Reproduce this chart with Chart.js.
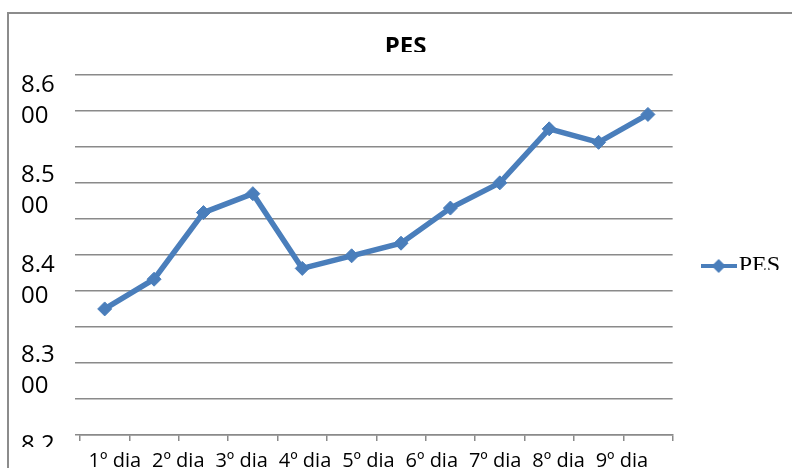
<!DOCTYPE html>
<html>
<head>
<meta charset="utf-8">
<script src="https://cdn.jsdelivr.net/npm/chart.js@4.4.0/dist/chart.umd.min.js"></script>
<style>
  html, body { margin: 0; padding: 0; background: #fff; }
  #wrap { position: relative; width: 792px; height: 468px; overflow: hidden; }
  #frame { position: absolute; left: 7px; top: 12px; right: -10px; bottom: -10px; border-left: 2px solid #8c8c8c; border-top: 2px solid #8c8c8c; }
  canvas { position: absolute; left: 0; top: 0; }
</style>
</head>
<body>
<div id="wrap"><div id="frame"></div><canvas id="chartPes" width="792" height="468"></canvas></div>
<script>
let days = ['1º dia', '2º dia', '3º dia', '4º dia', '5º dia', '6º dia', '7º dia', '8º dia', '9º dia', '10º dia', '11º dia', '12º dia'];
let pes = [8.340, 8.373, 8.447, 8.468, 8.385, 8.399, 8.413, 8.452, 8.480, 8.540, 8.525, 8.556];
// only the first nine day labels fit under the axis
let visibleDays = days.slice(0, 9);
let gridValues = [8.2, 8.24, 8.28, 8.32, 8.36, 8.4, 8.44, 8.48, 8.52, 8.56, 8.6];
let yLabelValues = [8.2, 8.3, 8.4, 8.5, 8.6];

let blue = '#4a7ebb';
let gray = '#8a8a8a';

// legend icon: line + diamond
let icon = document.createElement('canvas');
icon.width = 36;
icon.height = 16;
let ic = icon.getContext('2d');
ic.strokeStyle = blue;
ic.lineWidth = 4;
ic.beginPath(); ic.moveTo(0, 8); ic.lineTo(36, 8); ic.stroke();
ic.fillStyle = blue;
ic.beginPath(); ic.moveTo(18, 1); ic.lineTo(25, 8); ic.lineTo(18, 15); ic.lineTo(11, 8); ic.closePath(); ic.fill();

// the reference cuts off the bottom of some texts
let clipPlugin = {
    id: 'clipTexts',
    beforeDraw(chart) {
        let c = chart.ctx;
        c.save();
        c.beginPath();
        c.rect(0, 0, chart.width, chart.height);
        c.rect(350, 52, 100, 20);
        c.rect(738, 270, 54, 30);
        c.rect(0, 447, 74, 21);
        c.clip('evenodd');
    },
    afterDraw(chart) {
        chart.ctx.restore();
    }
};

let ctxPes = document.querySelector('#chartPes').getContext('2d');
let chartPes = new Chart(ctxPes, {
    type: 'line',
    data: {
        labels: days,
        datasets: [
            {
                label: 'PES',
                data: pes,
                xAxisID: 'x',
                yAxisID: 'y',
                borderColor: blue,
                backgroundColor: blue,
                borderWidth: 5.5,
                pointStyle: 'rectRot',
                pointRadius: 7,
                pointBackgroundColor: blue,
                pointBorderColor: blue,
                pointBorderWidth: 1,
                tension: 0
            }
        ]
    },
    plugins: [clipPlugin],
    options: {
        responsive: false,
        animation: false,
        layout: { padding: { left: 21, right: 2, top: 0, bottom: 0 } },
        plugins: {
            title: {
                display: true,
                text: 'PES',
                color: '#000',
                font: { family: 'Open Sans', size: 24, weight: 'bold' },
                padding: { top: 33, bottom: 13 }
            },
            legend: {
                position: 'right',
                title: { display: true, text: ' ', padding: { top: 54, bottom: 0 }, font: { size: 10, lineHeight: 1 } },
                labels: {
                    usePointStyle: true,
                    pointStyle: icon,
                    pointStyleWidth: 16,
                    padding: 38,
                    color: '#000',
                    font: { family: 'Liberation Serif', size: 24 }
                }
            },
            tooltip: { enabled: false }
        },
        scales: {
            x: {
                type: 'category',
                offset: true,
                grid: { display: true, drawOnChartArea: false, drawTicks: true, tickLength: 6, offset: true, color: gray, lineWidth: 1.5 },
                border: { color: gray, width: 1.5 },
                ticks: { display: false }
            },
            xl: {
                type: 'linear',
                position: 'bottom',
                min: 0.45,
                max: 9.8,
                afterBuildTicks: s => { s.ticks = visibleDays.map((d, i) => ({ value: i + 1 })); },
                afterFit: s => { s.height = 27; s.paddingLeft = 0; s.paddingRight = 0; },
                grid: { display: false, drawTicks: false },
                border: { display: false },
                ticks: {
                    callback: v => days[v - 1],
                    autoSkip: false,
                    maxRotation: 0,
                    padding: 8,
                    color: '#000',
                    font: { family: 'Open Sans', size: 20 }
                }
            },
            y: {
                type: 'linear',
                position: 'left',
                weight: 0,
                min: 8.2,
                max: 8.6,
                afterBuildTicks: s => { s.ticks = gridValues.map(v => ({ value: v })); },
                afterFit: s => { s.paddingTop = 0; s.paddingBottom = 0; },
                grid: { color: gray, lineWidth: 1.5, drawTicks: true, tickLength: 5 },
                border: { display: false },
                ticks: { display: false }
            },
            yl: {
                type: 'linear',
                position: 'left',
                weight: 1,
                min: 8.2,
                max: 8.6,
                afterBuildTicks: s => { s.ticks = yLabelValues.map(v => ({ value: v })); },
                afterFit: s => { s.width = 54; s.paddingTop = 0; s.paddingBottom = 0; },
                grid: { display: false, drawTicks: false },
                border: { display: false },
                ticks: {
                    callback: v => { let t = v.toFixed(3); return [t.slice(0, 3), t.slice(3)]; },
                    crossAlign: 'far',
                    labelOffset: 26,
                    padding: 20,
                    color: '#000',
                    font: { family: 'Open Sans', size: 24, lineHeight: 1.3 }
                }
            }
        }
    }
});
</script>
</body>
</html>
